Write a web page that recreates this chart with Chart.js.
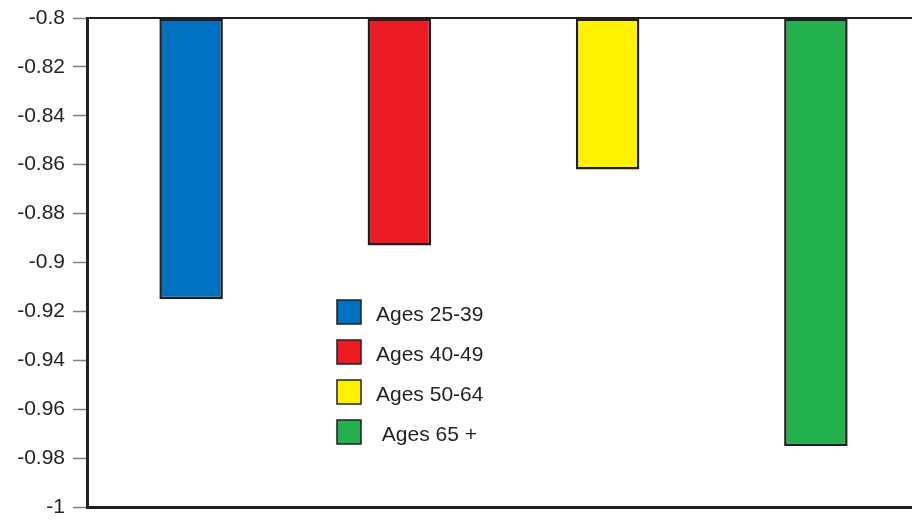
<!DOCTYPE html>
<html>
<head>
<meta charset="utf-8">
<script src="https://cdn.jsdelivr.net/npm/chart.js@4.4.1/dist/chart.umd.min.js"></script>
<style>
  html, body { margin: 0; padding: 0; background: #fff; overflow: hidden; }
  #wrap { width: 912px; height: 521px; overflow: hidden; }
</style>
</head>
<body>
<div id="wrap"><canvas id="chart" width="920" height="521"></canvas></div>
<script>
// ---------- Data ----------
const categories = ["Ages 25-39", "Ages 40-49", "Ages 50-64", " Ages 65 +"];
const values = [-0.915, -0.893, -0.862, -0.975];
const barColors = ["#0070C0", "#ED1C24", "#FFF200", "#22B14C"];
const yTicks = [-0.8, -0.82, -0.84, -0.86, -0.88, -0.9, -0.92, -0.94, -0.96, -0.98, -1];

const INK = "#231F20";
const FONT = "Liberation Sans, Arial, Helvetica, sans-serif";

// ---------- Legend drawn inside plot ----------
const insideLegend = {
  id: "insideLegend",
  afterDraw(chart) {
    const { ctx, chartArea } = chart;
    const x0 = chartArea.left + 250, y0 = chartArea.top + 282, step = 40, box = 24;
    ctx.save();
    ctx.font = `21px ${FONT}`;
    ctx.textBaseline = "middle";
    categories.forEach((lab, i) => {
      const y = y0 + i * step;
      ctx.fillStyle = barColors[i];
      ctx.fillRect(x0, y, box, box);
      ctx.lineWidth = 1.5;
      ctx.strokeStyle = INK;
      ctx.strokeRect(x0, y, box, box);
      ctx.fillStyle = INK;
      ctx.fillText(lab, x0 + 39, y + box / 2 + 3);
    });
    ctx.restore();
  }
};

new Chart(document.getElementById("chart"), {
  type: "bar",
  data: {
    labels: categories,
    datasets: [{
      data: values,
      base: -0.8,
      backgroundColor: barColors,
      borderColor: INK,
      borderWidth: 2.5,
      borderSkipped: false,
      barPercentage: 0.305,
      categoryPercentage: 1
    }]
  },
  options: {
    responsive: false,
    animation: false,
    layout: { padding: { left: 0, right: 0, top: 0, bottom: 0 } },
    plugins: { legend: { display: false }, tooltip: { enabled: false } },
    scales: {
      x: {
        position: "bottom",
        ticks: { display: false },
        grid: { display: true, drawOnChartArea: false, drawTicks: false },
        border: { display: true, color: INK, width: 3 },
        afterFit: (s) => { s.height = 14; }
      },
      xTop: {
        type: "category",
        labels: categories,
        position: "top",
        ticks: { display: false },
        grid: { display: true, drawOnChartArea: false, drawTicks: false },
        border: { display: true, color: INK, width: 2 },
        afterFit: (s) => { s.height = 18; }
      },
      y: {
        min: -1,
        max: -0.8,
        afterBuildTicks: (s) => { s.ticks = yTicks.map((v) => ({ value: v })); },
        ticks: {
          color: INK,
          font: { family: FONT, size: 21 },
          padding: 8,
          callback: (v) => String(v)
        },
        grid: { display: true, drawOnChartArea: false, drawTicks: true, tickLength: 14, color: "#808080", tickWidth: 1.5 },
        border: { display: true, color: INK, width: 3 },
        afterFit: (s) => { s.width = 87; s.paddingTop = 0; s.paddingBottom = 0; }
      }
    }
  },
  plugins: [insideLegend]
});
</script>
</body>
</html>
